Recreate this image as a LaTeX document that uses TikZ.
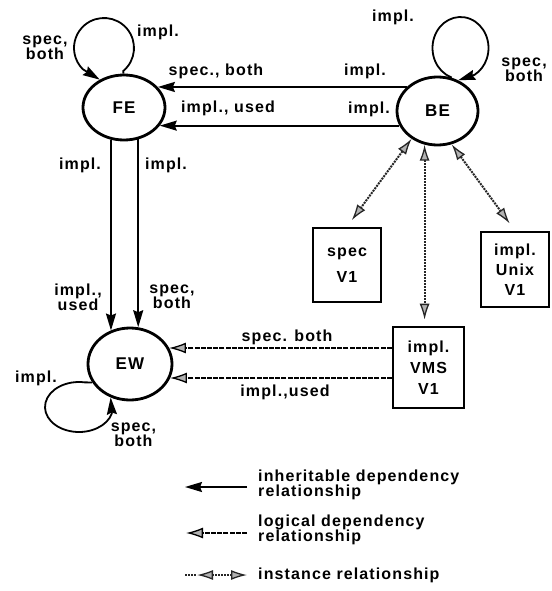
\documentclass[tikz,border=0pt]{standalone}
\usepackage{fontspec}
\setmainfont{Liberation Sans}[LetterSpace=7]
\usetikzlibrary{arrows.meta,shapes.geometric}
\begin{document}
\begin{tikzpicture}[x=1pt,y=-1pt,
  lbl/.style={font=\bfseries\fontsize{16}{15}\selectfont, align=center, inner sep=0pt},
  ell/.style={ellipse, draw, line width=2.8pt, inner sep=0pt, font=\bfseries\fontsize{17}{17}\selectfont},
  boxn/.style={draw, line width=2.6pt, inner sep=0pt, align=center},
  inh/.style={line width=1.8pt, -{Stealth[length=17pt,width=10pt,inset=2pt]}},
  logi/.style={line width=2pt, dash pattern=on 5pt off 1.2pt, -{Latex[length=17pt,width=11pt,fill=gray!60,line width=1.3pt]}},
  instline/.style={line width=2pt, black!85, densely dotted},
  inst/.style={instline, {Latex[length=16pt,width=10pt,fill=gray!60,line width=1.3pt]}-{Latex[length=16pt,width=10pt,fill=gray!60,line width=1.3pt]}},
]
\useasboundingbox (0,0) rectangle (551,591);

% main nodes
\node[ell, minimum width=82pt, minimum height=65pt] (FE) at (124,107.5) {FE};
\node[ell, minimum width=81pt, minimum height=68pt] (BE) at (437.5,111) {BE};
\node[ell, minimum width=84pt, minimum height=72pt] (EW) at (130,364) {EW};

\node[boxn, minimum width=68pt, minimum height=74pt, font=\bfseries\fontsize{16}{26}\selectfont] (spec) at (347,265) {spec\\V1};
\node[boxn, minimum width=68pt, minimum height=75pt, font=\bfseries\fontsize{16}{20}\selectfont] (unix) at (515,269.5) {impl.\\Unix\\V1};
\node[boxn, minimum width=71pt, minimum height=81pt, font=\bfseries\fontsize{16}{21}\selectfont] (vms) at (428.5,367.5) {impl.\\VMS\\V1};

% inheritable dependencies
\draw[inh] (BE.142) -- (BE.142 -| FE.31);
\draw[inh] (BE.201) -- (BE.201 -| FE.-27);
\draw[inh] (FE.248) -- (FE.248 |- EW.120);
\draw[inh] (FE.294) -- (FE.294 |- EW.78);

% self loops
\coordinate (feC) at (104,48);
\draw[inh] (FE.91) -- ([shift={(50:30)}]feC) arc[start angle=50, end angle=-225, radius=30] -- (FE.131);
\coordinate (beC) at (460.5,48);
\draw[inh] (BE.67) -- ([shift={(110:28 and 31)}]beC) arc[start angle=110, end angle=420, x radius=28, y radius=31] -- (BE.56);
\coordinate (ewC) at (79,407);
\draw[inh] (EW.206) -- ([shift={(-80:34 and 25)}]ewC) arc[start angle=-80, end angle=-345, x radius=34, y radius=25] -- (EW.240);

% instance relationships
\draw[inst, shorten >=8pt] (BE.227) -- (spec.north);
\draw[inst, shorten >=9pt] (BE.293) -- (unix.north);
\draw[inst, shorten >=6pt] (BE.249) -- (BE.249 |- vms.north);

% logical dependencies
\draw[logi] ([yshift=19.5pt]vms.west) -- ([yshift=19.5pt]vms.west -| EW.23);
\draw[logi] ([yshift=-10.5pt]vms.west) -- ([yshift=-10.5pt]vms.west -| EW.-20);

% labels
\node[lbl] (l1) at (45,48) {spec,\\both};
\node[lbl] (l2) at (158,32) {impl.};
\node[lbl] (l3) at (216,71) {spec., both};
\node[lbl] (l4) at (228,108) {impl., used};
\node[lbl] (l5) at (365,71) {impl.};
\node[lbl] (l6) at (369,109) {impl.};
\node[lbl] (l7) at (393,17) {impl.};
\node[lbl] (l8) at (524,70) {spec,\\both};
\node[lbl] (l9) at (80,165) {impl.};
\node[lbl] (l10) at (166,165) {impl.};
\node[lbl] (l11) at (78,297) {impl.,\\used};
\node[lbl] (l12) at (172,297) {spec,\\both};
\node[lbl] (l13) at (287,337) {spec. both};
\node[lbl] (l14) at (285,392) {impl.,used};
\node[lbl] (l15) at (36,378) {impl.};
\node[lbl] (l16) at (133.5,435) {spec,\\both};

% legend
\coordinate (a1s) at (247,487); \coordinate (a1e) at (185,487);
\draw[inh] (a1s) -- (a1e);
\node[lbl, anchor=west, align=left] (t1) at (258,485) {inheritable dependency\\relationship};
\coordinate (a2s) at (247,533); \coordinate (a2e) at (186,533);
\draw[logi] (a2s) -- (a2e);
\node[lbl, anchor=west, align=left] (t2) at (258,530) {logical dependency\\relationship};
\coordinate (a3t) at (185,575); \coordinate (a3a) at (197,575); \coordinate (a3b) at (247,575);
\draw[instline] (a3t) -- (a3a);
\draw[inst] (a3a) -- (a3b);
\node[lbl, anchor=west] (t3) at (258,575) {instance relationship};
\end{tikzpicture}
\end{document}
